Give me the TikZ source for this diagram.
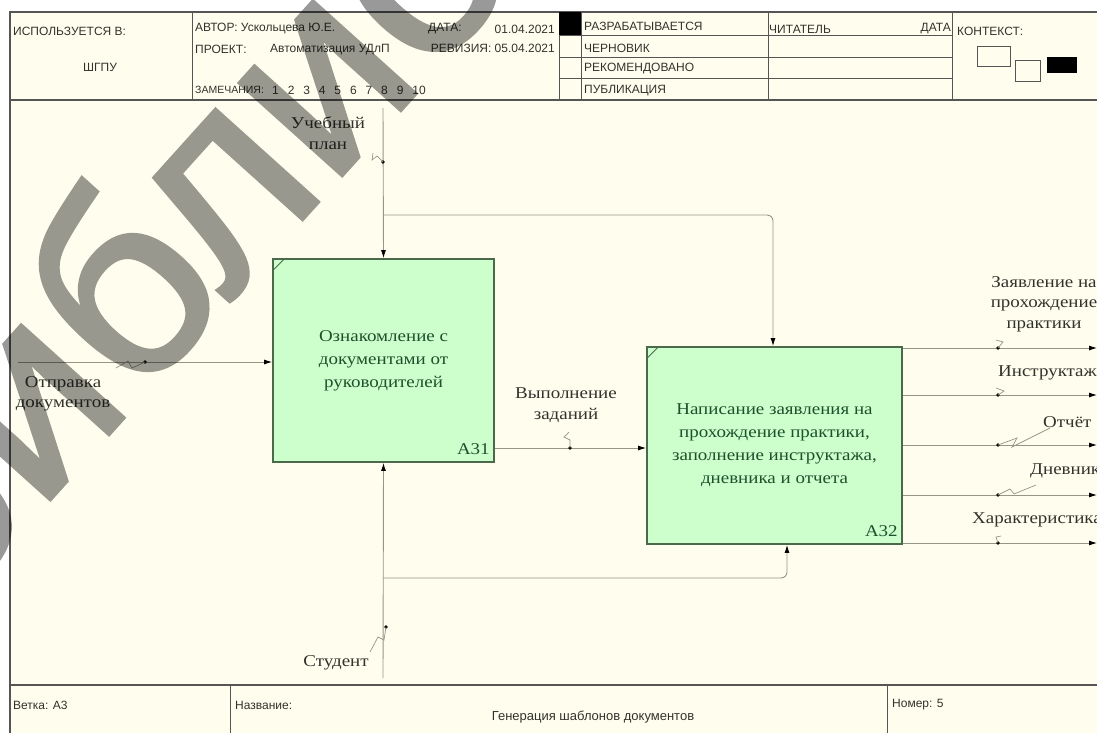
\documentclass[tikz,border=0pt]{standalone}
\usepackage{fontspec}
\setmainfont{Liberation Serif}[FakeStretch=1.15]
\newfontfamily\hdr{Liberation Sans}
\newfontfamily\wmfont{Liberation Sans}[FakeBold=1.5]
\usetikzlibrary{arrows.meta,calc}
\definecolor{bgc}{RGB}{255,254,238}
\definecolor{boxfill}{RGB}{204,255,204}
\definecolor{boxline}{RGB}{75,105,75}
\definecolor{boxtext}{RGB}{30,80,45}
\definecolor{arrline}{RGB}{150,150,135}
\definecolor{frame}{RGB}{85,85,85}
\definecolor{lbl}{RGB}{50,50,45}
\tikzset{
  frameline/.style={draw=frame,line width=1.3pt},
  cellline/.style={draw=frame,line width=0.9pt},
  hdrtext/.style={font=\hdr\fontsize{12}{13}\selectfont,text=lbl,inner sep=0pt},
  proc/.style={draw=boxline,line width=1.8pt,fill=boxfill,text=boxtext,align=center,
    font=\fontsize{16.5}{23}\selectfont,inner sep=0pt},
  idlabel/.style={text=boxtext,font=\fontsize{16.5}{18}\selectfont,inner sep=0pt},
  arr/.style={draw=arrline,line width=0.9pt,-{Latex[length=8pt,width=5pt,color=black]}},
  albl/.style={text=lbl,align=center,font=\fontsize{16.5}{20.5}\selectfont,inner sep=0pt},
  squig/.style={draw=arrline,line width=0.7pt},
  dotc/.style={fill=black},
  wmark/.style={text=black,font=\wmfont\fontsize{261}{261}\selectfont,inner sep=0pt}
}
\begin{document}
\begin{tikzpicture}[x=1pt,y=-1pt]
\useasboundingbox (0,0) rectangle (1097,733);
\fill[white] (0,0) rectangle (1097,733);
\fill[bgc] (10,12) rectangle (1100,740);

% ---------- frame and header ----------
\draw[frameline] (10,740) -- (10,12) -- (1100,12);
\draw[frameline] (10,100) -- (1100,100);
\draw[frameline] (10,685) -- (1100,685);
\draw[cellline] (192,12) -- (192,100);
\draw[cellline] (559,12) -- (559,100);
\draw[cellline] (581,12) -- (581,100);
\draw[cellline] (768,12) -- (768,100);
\draw[cellline] (952,12) -- (952,100);
\draw[cellline] (559,35) -- (952,35);
\draw[cellline] (559,57) -- (952,57);
\draw[cellline] (559,78) -- (952,78);
\fill[black] (559,12) rectangle (581,35);
\draw[cellline] (230,685) -- (230,740);
\draw[cellline] (887,685) -- (887,740);

\node[hdrtext,anchor=west] (usedin) at (13,31) {ИСПОЛЬЗУЕТСЯ В:};
\node[hdrtext] (org) at (100,67) {ШГПУ};
\node[hdrtext,anchor=west] (author) at (195,29) {АВТОР: Ускольцева Ю.Е.};
\node[hdrtext,anchor=west] (project) at (195,49) {ПРОЕКТ:};
\node[hdrtext,anchor=west] (projname) at (270,50) {Автоматизация УДлП};
\node[hdrtext,anchor=west,font=\hdr\fontsize{10.5}{12}\selectfont] (notes) at (195,90) {ЗАМЕЧАНИЯ:};
\node[hdrtext,anchor=west] (nums) at (272,90) {1\hspace{8.9pt}2\hspace{8.9pt}3\hspace{8.9pt}4\hspace{8.9pt}5\hspace{8.9pt}6\hspace{8.9pt}7\hspace{8.9pt}8\hspace{8.9pt}9\hspace{8.9pt}10};
\node[hdrtext,anchor=west] (date) at (428,29) {ДАТА:};
\node[hdrtext,anchor=east] (dateval) at (555,29) {01.04.2021};
\node[hdrtext,anchor=east] (rev) at (555,48) {РЕВИЗИЯ: 05.04.2021};
\node[hdrtext,anchor=west] (st1) at (584,26) {РАЗРАБАТЫВАЕТСЯ};
\node[hdrtext,anchor=west] (st2) at (584,48) {ЧЕРНОВИК};
\node[hdrtext,anchor=west] (st3) at (584,69) {РЕКОМЕНДОВАНО};
\node[hdrtext,anchor=west] (st4) at (584,91) {ПУБЛИКАЦИЯ};
\node[hdrtext,anchor=west] (reader) at (769,29) {ЧИТАТЕЛЬ};
\node[hdrtext,anchor=east] (rdate) at (951,29) {ДАТА};
\node[hdrtext,anchor=west] (ctx) at (957,31) {КОНТЕКСТ:};
\draw[cellline] (977,46) rectangle (1010,66);
\draw[cellline] (1015,60) rectangle (1040,81);
\fill[black] (1047,57) rectangle (1077,73);

\node[hdrtext,anchor=west] (node) at (13,705) {Ветка: А3};
\node[hdrtext,anchor=west] (title) at (235,705) {Название:};
\node[hdrtext,font=\hdr\fontsize{13}{14}\selectfont] (titleval) at (593,717) {Генерация шаблонов документов};
\node[hdrtext,anchor=west] (num) at (892,705) {Номер: 5};

% ---------- boxes ----------
\node[proc,minimum width=221pt,minimum height=203pt] (a31) at (383.5,360.5) {Ознакомление с\\документами от\\руководителей};
\node[proc,minimum width=255pt,minimum height=197pt] (a32) at (774.5,445.5) {Написание заявления на\\прохождение практики,\\заполнение инструктажа,\\дневника и отчета};
\node[idlabel,anchor=south east] (a31id) at ($(a31.south east)+(-5,-8)$) {A31};
\node[idlabel,anchor=south east] (a32id) at ($(a32.south east)+(-5,-8)$) {A32};
\draw[boxline,line width=0.9pt] ($(a31.north west)+(0,13)$) -- ($(a31.north west)+(13,0)$);
\draw[boxline,line width=0.9pt] ($(a32.north west)+(0,13)$) -- ($(a32.north west)+(13,0)$);

% ---------- coordinates ----------
\coordinate (ctop) at (383,108);
\coordinate (cbr) at (383,215);
\coordinate (mbot) at (383,678);
\coordinate (mbr) at (383,578);
\coordinate (inl) at (18,362);
\coordinate (y448) at (0,448);
\coordinate (o1) at (1097,348);
\coordinate (o2) at (1097,395);
\coordinate (o3) at (1097,445);
\coordinate (o4) at (1097,495);
\coordinate (o5) at (1097,543);

% ---------- connectors ----------
\draw[arr] (ctop) -- (a31.north);
\draw[arr,rounded corners=6pt] (cbr) -| (a32.north -| 773,0);
\draw[arr] (mbot) -- (a31.south);
\draw[arr,rounded corners=6pt] (mbr) -| (a32.south -| 787,0);
\draw[arr] (inl) -- (a31.west |- inl);
\draw[arr] (a31.east |- y448) -- (a32.west |- y448);
\foreach \o in {o1,o2,o3,o4,o5} \draw[arr] (a32.east |- \o) -- (\o);

% ---------- dots ----------
\foreach \p in {(383,162),(145,362),(570,448),(386,627),(998,348),(998,395),(998,445),(998,495),(998,543)}
  \fill[dotc] \p circle (1.9pt);

% ---------- squiggles ----------
\draw[squig] (383,162) -- (377,156) -- (372,160) -- (373,153);
\draw[squig] (145,362) -- (132,368) -- (128,361) -- (116,368);
\draw[squig] (570,448) -- (570,440) -- (564,437) -- (569,432);
\draw[squig] (386,627) -- (384,640) -- (378,637) -- (370,652);
\draw[squig] (998,348) -- (1003,342) -- (996,340);
\draw[squig] (998,395) -- (1004,391) -- (996,388);
\draw[squig] (998,445) -- (1017,438) -- (1012,447) -- (1050,428);
\draw[squig] (998,495) -- (1010,489) -- (1014,494) -- (1036,485);
\draw[squig] (998,543) -- (996,537) -- (1001,536);

% ---------- labels ----------
\node[albl] (lplan) at (328,133) {Учебный\\план};
\node[albl] (lin) at (63,394) {Отправка\\документов};
\node[albl] (lwork) at (566,405) {Выполнение\\заданий};
\node[albl] (lstud) at (336,663) {Студент};
\node[albl] (lo1) at (1044,304) {Заявление на\\прохождение\\практики};
\node[albl,anchor=west] (lo2) at (998,373) {Инструктаж};
\node[albl,anchor=west] (lo3) at (1043,422) {Отчёт};
\node[albl,anchor=west] (lo4) at (1030,471) {Дневник};
\node[albl,anchor=west] (lo5) at (972,520) {Характеристика};

% ---------- watermark ----------
\begin{scope}[transparency group,opacity=0.4]
\node[wmark,rotate=48,anchor=base west] (wmk) at (-62,624) {библио};
\end{scope}
\end{tikzpicture}
\end{document}
